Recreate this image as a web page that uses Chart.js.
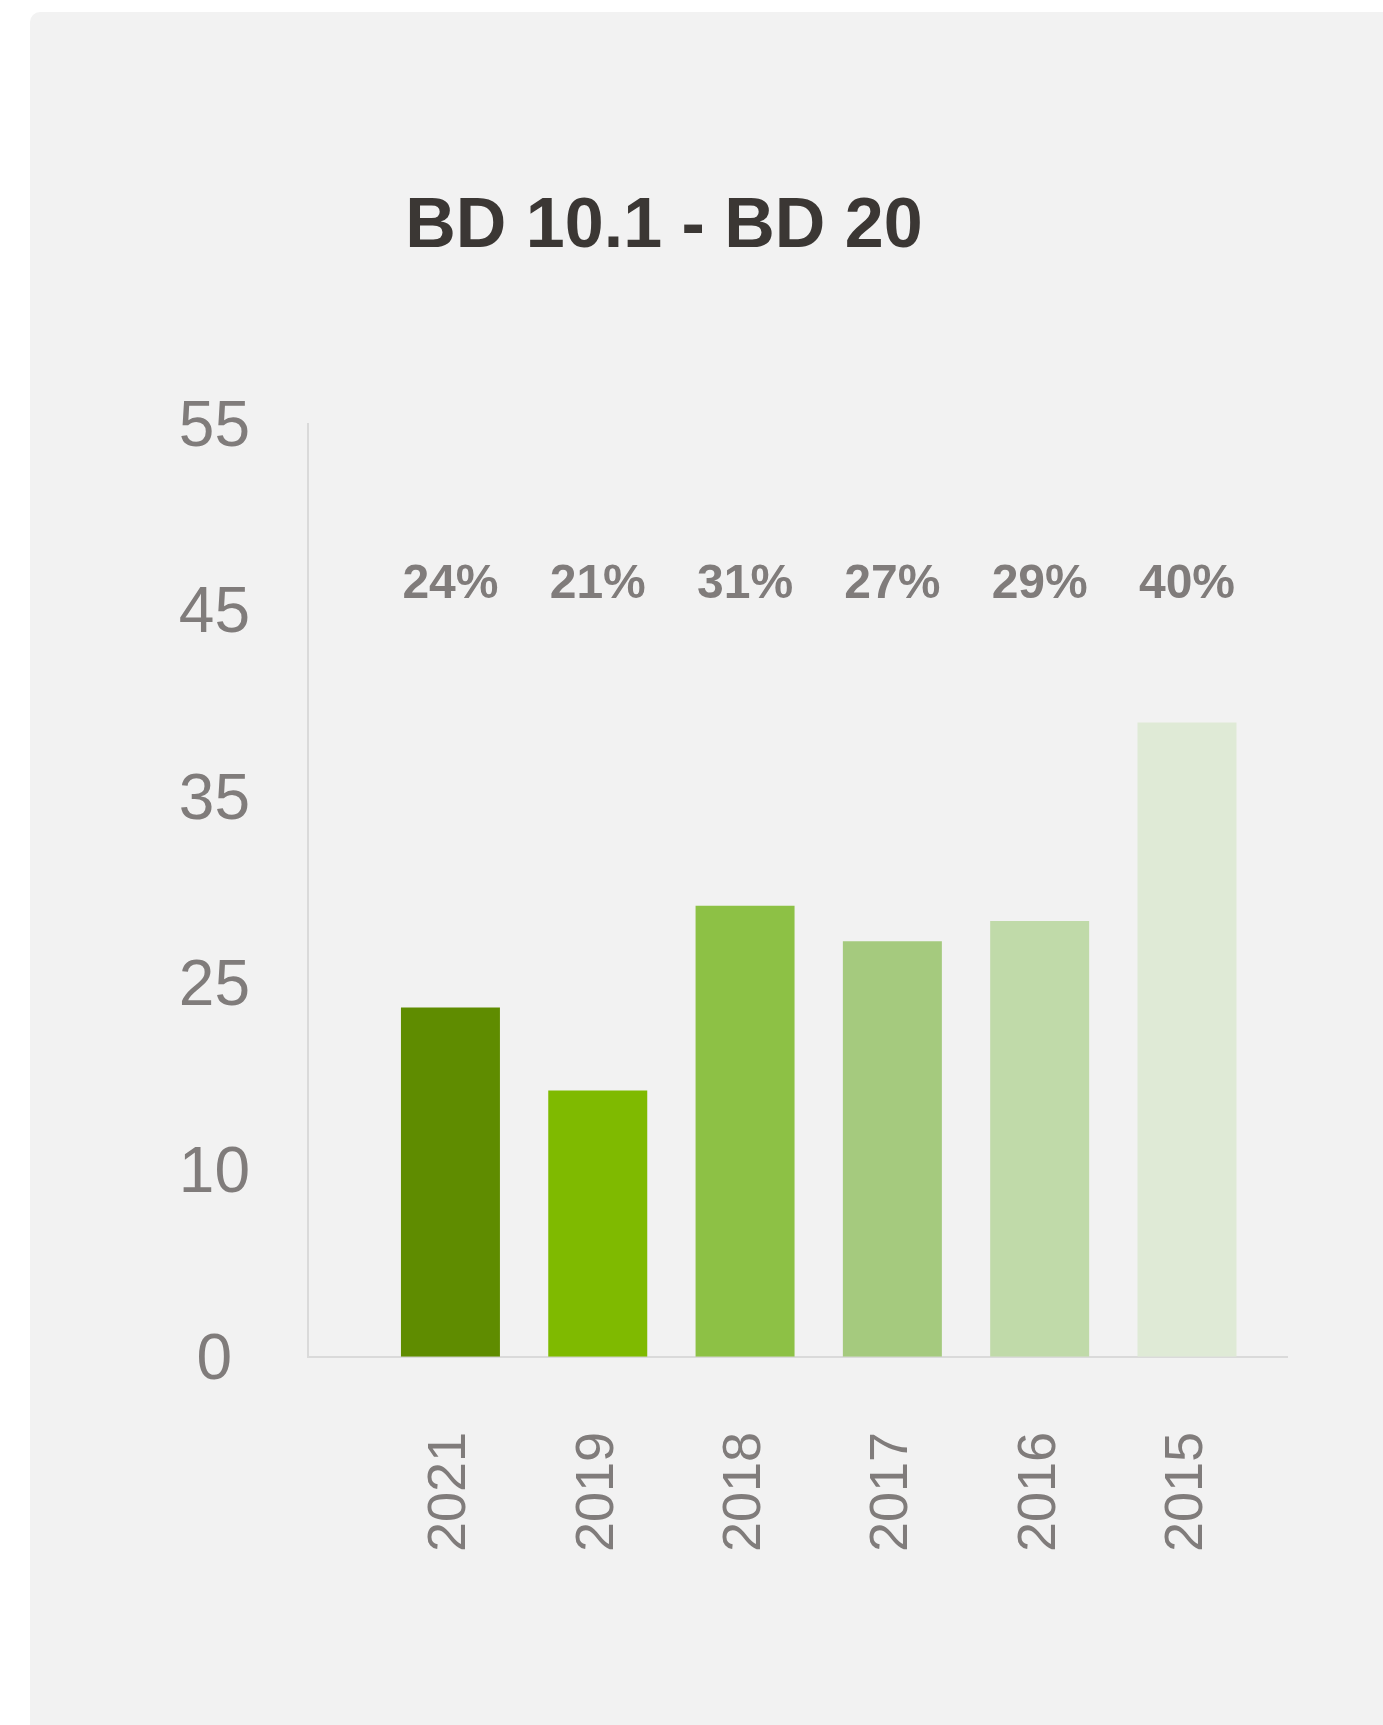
<!DOCTYPE html>
<html>
<head>
<meta charset="utf-8">
<script src="https://cdn.jsdelivr.net/npm/chart.js@4/dist/chart.umd.min.js"></script>
<style>
  html, body { margin: 0; padding: 0; background: #ffffff; width: 1383px; height: 1725px; overflow: hidden; }
  #card { position: absolute; left: 30px; top: 12px; right: 0; bottom: 0; background: #f2f2f2; border-top-left-radius: 10px; }
  #c { position: absolute; left: 0; top: 0; }
</style>
</head>
<body>
<div id="card"></div>
<canvas id="c" width="1383" height="1725"></canvas>
<script>
// ---- data ----
const titleText = 'BD 10.1 - BD 20';
const categories = ['2021', '2019', '2018', '2017', '2016', '2015'];
const barValues = [20.6, 15.7, 26.6, 24.5, 25.7, 37.4];
const pctLabels = ['24%', '21%', '31%', '27%', '29%', '40%'];
const yTickLabels = ['0', '10', '25', '35', '45', '55'];
const yMax = 55;
const pctLabelLevel = 45.5;
const barColors = ['#5f8c00', '#7fba00', '#8dc145', '#a5ca7e', '#c0daa9', '#dfead6'];

const FONT = '"Liberation Sans", Arial, Helvetica, sans-serif';
const GREY = '#807c7b';

const pctPlugin = {
  id: 'pctLabels',
  afterDatasetsDraw(chart) {
    const ctx = chart.ctx;
    const meta = chart.getDatasetMeta(0);
    const y = chart.scales.y.getPixelForValue(pctLabelLevel);
    ctx.save();
    ctx.font = 'bold 48px ' + FONT;
    ctx.fillStyle = GREY;
    ctx.textAlign = 'center';
    ctx.textBaseline = 'middle';
    meta.data.forEach((bar, i) => {
      ctx.fillText(pctLabels[i], bar.x, y);
    });
    ctx.restore();
  }
};

new Chart(document.getElementById('c'), {
  type: 'bar',
  data: {
    datasets: [{
      data: barValues.map((v, i) => ({ x: i, y: v })),
      backgroundColor: barColors,
      borderWidth: 0,
      barPercentage: 0.672,
      categoryPercentage: 1.0
    }]
  },
  options: {
    responsive: false,
    animation: false,
    devicePixelRatio: 1,
    layout: { padding: { left: 41, right: 96, top: 186, bottom: 98 } },
    plugins: {
      legend: { display: false },
      tooltip: { enabled: false },
      title: {
        display: true,
        text: titleText,
        color: '#3b3734',
        font: { family: FONT, size: 70, weight: 'bold', lineHeight: 1.2 },
        padding: { top: 0, bottom: 154 }
      }
    },
    scales: {
      x: {
        type: 'linear',
        offset: false,
        min: -0.967,
        max: 5.679,
        grid: { display: false, drawTicks: false, offset: false },
        border: { display: true, color: '#dadada', width: 2 },
        afterBuildTicks: (scale) => { scale.ticks = categories.map((_, i) => ({ value: i })); },
        ticks: {
          autoSkip: false,
          minRotation: 90,
          maxRotation: 90,
          padding: 75,
          color: GREY,
          font: { family: FONT, size: 54 },
          callback: (v, i) => categories[i]
        }
      },
      y: {
        min: 0,
        max: yMax,
        grid: { display: false, drawTicks: false },
        border: { display: true, color: '#dadada', width: 2 },
        afterBuildTicks: (scale) => {
          scale.ticks = yTickLabels.map((_, i) => ({ value: i * yMax / (yTickLabels.length - 1) }));
        },
        afterFit: (scale) => { scale.width = 267; },
        ticks: {
          padding: 58,
          labelOffset: 4,
          crossAlign: 'center',
          color: GREY,
          font: { family: FONT, size: 64 },
          callback: (v, i) => yTickLabels[i]
        }
      }
    }
  },
  plugins: [pctPlugin]
});
</script>
</body>
</html>
